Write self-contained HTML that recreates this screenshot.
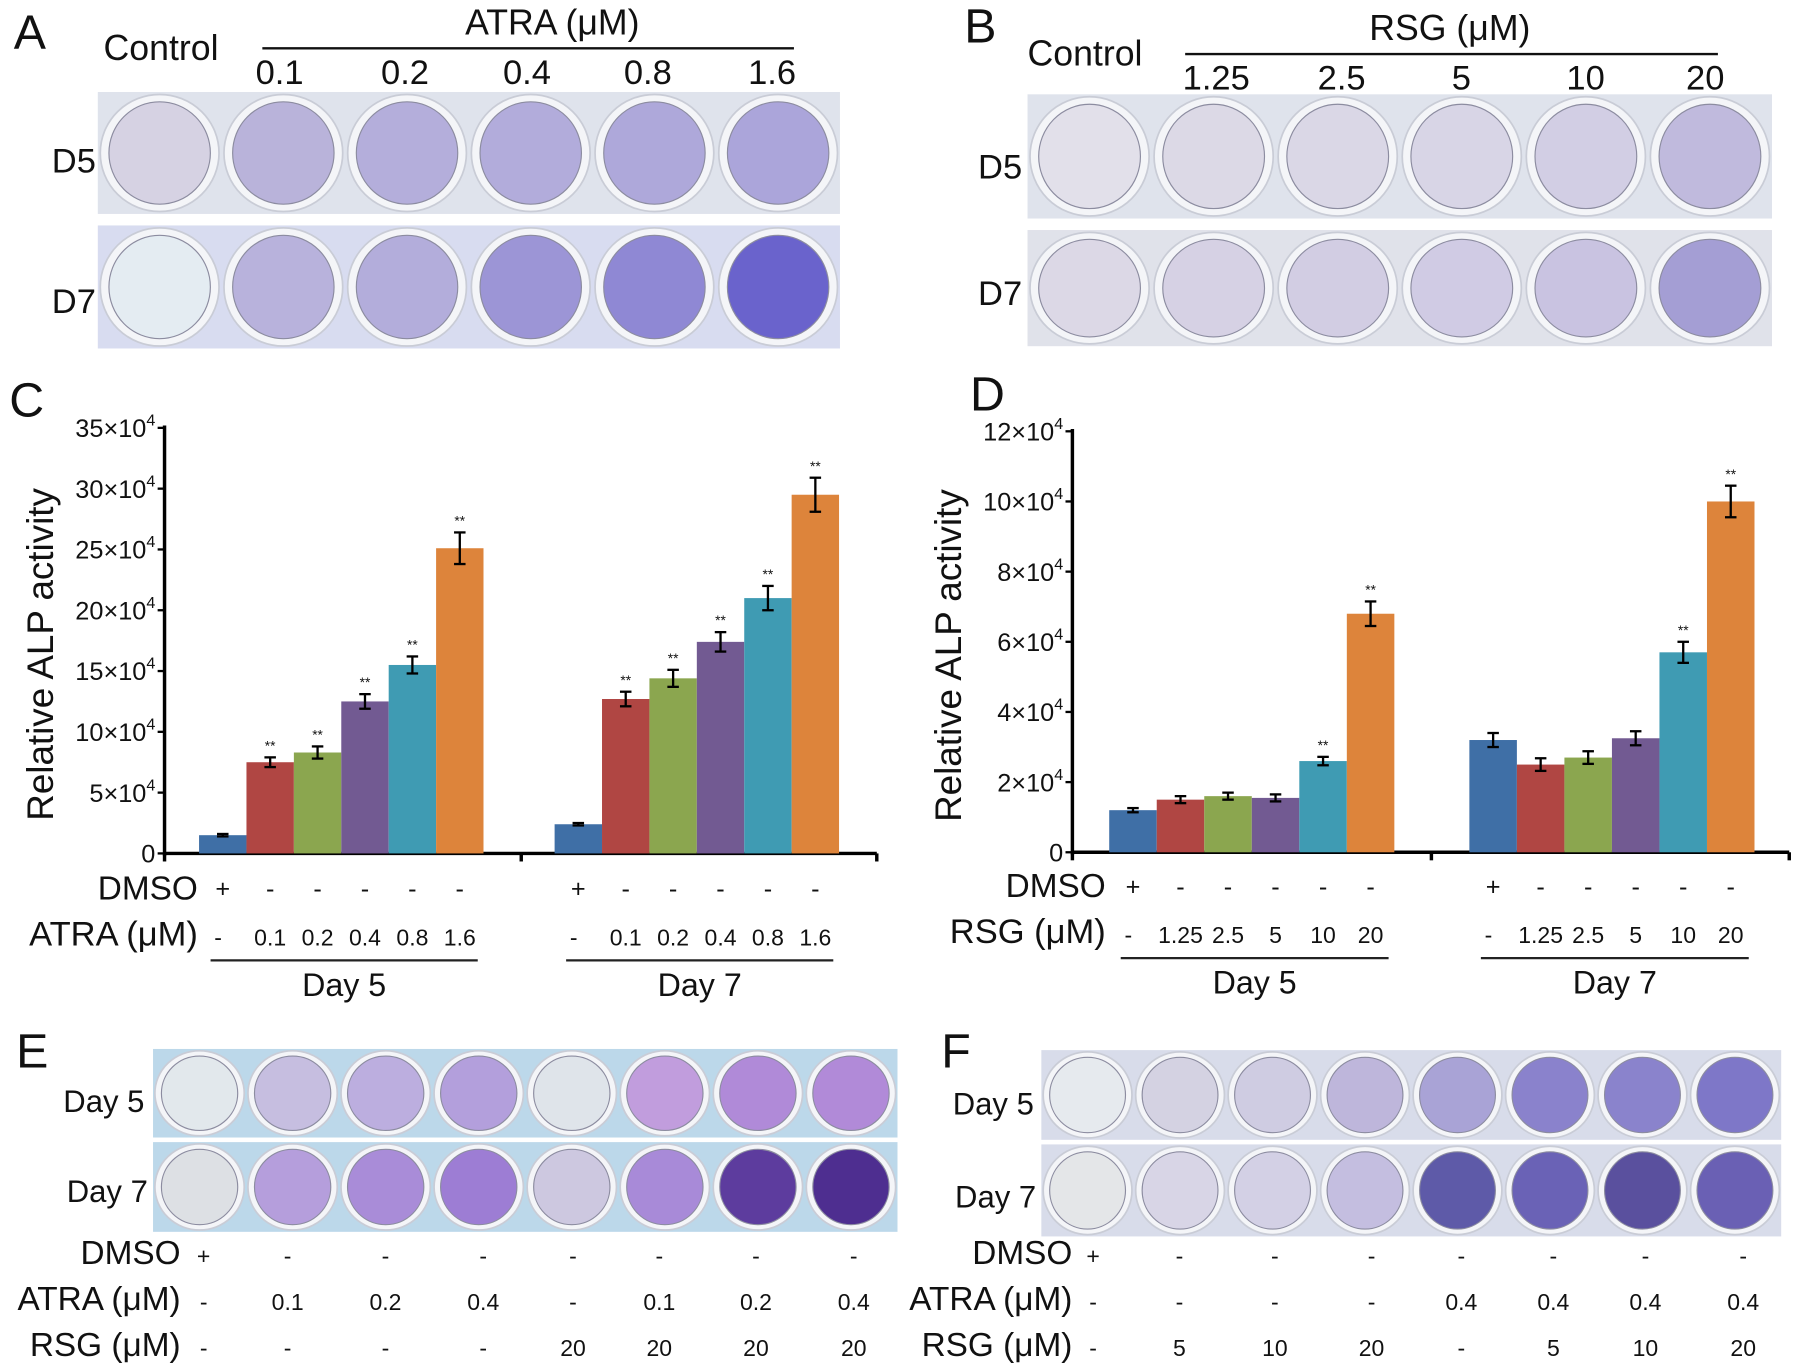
<!DOCTYPE html>
<html><head><meta charset="utf-8"><style>
html,body{margin:0;padding:0;background:#fff;}
svg{display:block;}
text{font-family:"Liberation Sans",sans-serif;fill:#111;}
.n{font-family:"Liberation Sans Narrow","Liberation Sans",sans-serif;}
</style></head><body>
<svg id="fig" width="1795" height="1371" viewBox="0 0 1560 1192" preserveAspectRatio="none" xmlns="http://www.w3.org/2000/svg">
<g id="static"></g>
</svg>
<script>
// ---- Chart C data (ATRA) ----
const cDay5 = [1.5, 7.5, 8.3, 12.5, 15.5, 25.1];
const cDay5Err = [0.1, 0.4, 0.5, 0.6, 0.7, 1.3];
const cDay7 = [2.4, 12.7, 14.4, 17.4, 21.0, 29.5];
const cDay7Err = [0.1, 0.6, 0.7, 0.8, 1.0, 1.4];
const cTicks = [0, 5, 10, 15, 20, 25, 30, 35];
const cDose = ["-", "0.1", "0.2", "0.4", "0.8", "1.6"];
const cDmso = ["+", "-", "-", "-", "-", "-"];
const cSig = ["", "**", "**", "**", "**", "**"];
// ---- Chart D data (RSG) ----
const dDay5 = [1.2, 1.5, 1.6, 1.55, 2.6, 6.8];
const dDay5Err = [0.06, 0.1, 0.1, 0.1, 0.12, 0.35];
const dDay7 = [3.2, 2.5, 2.7, 3.25, 5.7, 10.0];
const dDay7Err = [0.2, 0.18, 0.18, 0.2, 0.3, 0.45];
const dTicks = [0, 2, 4, 6, 8, 10, 12];
const dDose = ["-", "1.25", "2.5", "5", "10", "20"];
const dDmso = ["+", "-", "-", "-", "-", "-"];
const dSig = ["", "", "", "", "**", "**"];
const dSig7 = ["", "", "", "", "**", "**"];
const colors = ["#3f6fa6", "#b04643", "#8ba64f", "#725a92", "#3f9bb3", "#dd843b"];

const NS = "http://www.w3.org/2000/svg";
const root = document.getElementById('static');
function mk(tag, attrs, parent, txt) {
  const e = document.createElementNS(NS, tag);
  for (const k in attrs) e.setAttribute(k, attrs[k]);
  if (txt !== undefined) e.textContent = txt;
  (parent || root).appendChild(e);
  return e;
}
function label(x, y, s, size, anchor, cls, name) {
  const t = mk('text', {x: x, y: y, 'font-size': size, 'text-anchor': anchor || 'middle', class: cls || ''}, root, s);
  
  
  return t;
}

function chart(opt) {
  const g = mk('g', {});
  
  
  const y = v => opt.y0 - (v - 0) / opt.max * (opt.y0 - opt.y1);
  const ya = mk('line', {x1: opt.x0, y1: opt.y1 - 2, x2: opt.x0, y2: opt.y0 + 2, stroke: '#000', 'stroke-width': 3}, g);
   
  const xa = mk('line', {x1: opt.x0, y1: opt.y0, x2: opt.x2, y2: opt.y0, stroke: '#000', 'stroke-width': 3}, g);
   
  [opt.x0, opt.xm, opt.x2].forEach(x => mk('line', {x1: x, y1: opt.y0, x2: x, y2: opt.y0 + 7, stroke: '#000', 'stroke-width': 3}, g));
  opt.ticks.forEach(v => {
    const yy = y(v);
    mk('line', {x1: opt.x0 - 6, y1: yy, x2: opt.x0, y2: yy, stroke: '#000', 'stroke-width': 2}, g);
    const t = mk('text', {x: opt.x0 - 8, y: yy + 8, 'font-size': 22, 'text-anchor': 'end', class: 'n'}, g);
    
    
    if (v === 0) { t.textContent = '0'; }
    else {
      t.textContent = v + '\u00d710';
      mk('tspan', {dy: -10, 'font-size': 14}, t, '4');
    }
  });
  const yt = mk('text', {x: 0, y: 0, 'font-size': 32, 'text-anchor': 'middle', transform: `translate(${opt.x0 - 97},${(opt.y0 + opt.y1) / 2 + 12}) rotate(-90)`}, g, 'Relative ALP activity');
   
  [[opt.d5, opt.e5, opt.s5, opt.g5, 'day5'], [opt.d7, opt.e7, opt.s7, opt.g7, 'day7']].forEach(([vals, errs, sig, gx, dn]) => {
    vals.forEach((v, i) => {
      const bx = gx + i * opt.bw;
      const r = mk('rect', {x: bx, y: y(v), width: opt.bw, height: opt.y0 - y(v), fill: colors[i]}, g);
      
      
      const cx = bx + opt.bw / 2, hi = y(v + errs[i]), lo = y(v - errs[i]);
      mk('line', {x1: cx, y1: hi, x2: cx, y2: lo, stroke: '#000', 'stroke-width': 2}, g);
      mk('line', {x1: cx - 5, y1: hi, x2: cx + 5, y2: hi, stroke: '#000', 'stroke-width': 2}, g);
      mk('line', {x1: cx - 5, y1: lo, x2: cx + 5, y2: lo, stroke: '#000', 'stroke-width': 2}, g);
      if (sig[i]) {
        const s = mk('text', {x: cx, y: hi - 6, 'font-size': 12, 'text-anchor': 'middle'}, g, sig[i]);
        
        
      }
      label(cx, opt.rowDmso, opt.dmso[i], 22, 'middle', '', 'dmso-value');
      label(cx + (i === 0 ? -4 : 0), opt.rowDose, opt.dose[i], 20, 'middle', 'n', 'dose-value');
    });
    const x1 = gx + 10, x2 = gx + vals.length * opt.bw - 5;
    mk('line', {x1: x1, y1: opt.rowDose + 13, x2: x2, y2: opt.rowDose + 13, stroke: '#222', 'stroke-width': 2}, g);
    label((x1 + x2) / 2, opt.rowDose + 44, dn === 'day5' ? 'Day 5' : 'Day 7', 28, 'middle', 'n', 'group-label');
  });
  label(opt.x0 + 29, opt.rowDmso + 2, 'DMSO', 29, 'end', '', 'dmso-row-label');
  label(opt.x0 + 29, opt.rowDose, opt.doseName, 30, 'end', '', 'dose-row-label');
}

chart({name: 'chart-c', x0: 143, xm: 453, x2: 762, y0: 742, y1: 372, max: 35, ticks: cTicks, bw: 41.2,
  g5: 173, g7: 482, d5: cDay5, e5: cDay5Err, d7: cDay7, e7: cDay7Err, s5: cSig, s7: cSig,
  dmso: cDmso, dose: cDose, doseName: 'ATRA (\u03bcM)', rowDmso: 780, rowDose: 822});
chart({name: 'chart-d', x0: 932, xm: 1244, x2: 1555, y0: 741, y1: 375, max: 12, ticks: dTicks, bw: 41.3,
  g5: 964, g7: 1277, d5: dDay5, e5: dDay5Err, d7: dDay7, e7: dDay7Err, s5: dSig, s7: dSig7,
  dmso: dDmso, dose: dDose, doseName: 'RSG (\u03bcM)', rowDmso: 778, rowDose: 820});

function plate(name, x, y, w, h, fills, bg) {
  const g = mk('g', {});
  
  
  mk('rect', {x: x, y: y, width: w, height: h, fill: bg || '#dfe3ec'}, g);
  const n = fills.length, cw = w / n;
  fills.forEach((f, i) => {
    const cx = x + cw * (i + 0.5), cy = y + h / 2;
    mk('ellipse', {cx: cx, cy: cy, rx: cw * 0.48, ry: h * 0.48, fill: '#f4f5f8', stroke: '#c9ccd6', 'stroke-width': 1.5}, g);
    const e = mk('ellipse', {cx: cx, cy: cy, rx: cw * 0.41, ry: h * 0.42, fill: f, stroke: '#8c8ca0', 'stroke-width': 1}, g);
    
    
  });
}
plate('plate-a-d5', 85, 80, 645, 106, ['#d6d2e3', '#b9b3da', '#b4aedb', '#b2acdb', '#aea8da', '#aba5da']);
plate('plate-a-d7', 85, 196, 645, 107, ['#e4ecf2', '#b8b2dc', '#b3addb', '#9c95d6', '#8f88d4', '#6a63cc'], '#d8dcf0');
plate('plate-b-d5', 893, 82, 647, 108, ['#e2e0ea', '#dcd9e6', '#dad7e6', '#d8d5e6', '#d2cee4', '#c0badd']);
plate('plate-b-d7', 893, 200, 647, 101, ['#dcd8e6', '#d6d1e4', '#d2cde3', '#d0cbe4', '#c9c3e1', '#a49ed4'], '#e0e2ea');
plate('plate-e-d5', 133, 912, 647, 77, ['#e2e8ec', '#c6bee0', '#bcaedf', '#b39fdc', '#dfe4ea', '#c19ddd', '#b08ad8', '#b18ad8'], '#bcd8ea');
plate('plate-e-d7', 133, 993, 647, 78, ['#dde0e4', '#b59edc', '#a98cd8', '#9d7dd4', '#cdc8e0', '#a88ad8', '#5d3c9e', '#4e2e90'], '#bcd8ea');
plate('plate-f-d5', 905, 913, 643, 78, ['#e6eaee', '#d4d2e2', '#cfcce2', '#beb6db', '#a9a3d6', '#8a82cc', '#8a83cc', '#7e77c8'], '#d8dcea');
plate('plate-f-d7', 905, 995, 643, 80, ['#e4e6e8', '#d8d5e6', '#d3d0e5', '#c4bee0', '#5e5aa8', '#6a62b6', '#5a509e', '#6a60b4'], '#d8dcea');

[['A', 12, 42], ['B', 838, 37], ['C', 8, 362], ['D', 843, 357], ['E', 14, 928], ['F', 818, 928]].forEach(([s, x, y]) => label(x, y, s, 42, 'start', '', 'panel-letter-' + s.toLowerCase()));
label(90, 52, 'Control', 31, 'start', '', 'control-label-a');
label(480, 30, 'ATRA (\u03bcM)', 31, 'middle', '', 'atra-header');
mk('line', {x1: 228, y1: 42, x2: 690, y2: 42, stroke: '#111', 'stroke-width': 2});
[['0.1', 243], ['0.2', 352], ['0.4', 458], ['0.8', 563], ['1.6', 671]].forEach(([s, x]) => label(x, 73, s, 30, 'middle', '', 'atra-dose'));
label(45, 150, 'D5', 30, 'start', '', 'row-label-d5');
label(45, 272, 'D7', 30, 'start', '', 'row-label-d7');
label(893, 57, 'Control', 31, 'start', '', 'control-label-b');
label(1260, 35, 'RSG (\u03bcM)', 31, 'middle', '', 'rsg-header');
mk('line', {x1: 1030, y1: 47, x2: 1493, y2: 47, stroke: '#111', 'stroke-width': 2});
[['1.25', 1057], ['2.5', 1166], ['5', 1270], ['10', 1378], ['20', 1482]].forEach(([s, x]) => label(x, 78, s, 30, 'middle', '', 'rsg-dose'));
label(850, 155, 'D5', 30, 'start', '', 'row-label-d5');
label(850, 265, 'D7', 30, 'start', '', 'row-label-d7');

label(55, 967, 'Day 5', 27, 'start', 'n', 'row-label-day5');
label(58, 1045, 'Day 7', 27, 'start', 'n', 'row-label-day7');
label(828, 969, 'Day 5', 27, 'start', 'n', 'row-label-day5');
label(830, 1050, 'Day 7', 27, 'start', 'n', 'row-label-day7');
const eCols = [177, 250, 335, 420, 498, 573, 657, 742];
const eAtra = ['-', '0.1', '0.2', '0.4', '-', '0.1', '0.2', '0.4'];
const eRsg = ['-', '-', '-', '-', '20', '20', '20', '20'];
const fCols = [950, 1025, 1108, 1192, 1270, 1350, 1430, 1515];
const fAtra = ['-', '-', '-', '-', '0.4', '0.4', '0.4', '0.4'];
const fRsg = ['-', '5', '10', '20', '-', '5', '10', '20'];
[[eCols, eAtra, eRsg, 157], [fCols, fAtra, fRsg, 932]].forEach(([cols, at, rs, rx]) => {
  label(rx, 1099, 'DMSO', 29, 'end', '', 'dmso-row-label');
  label(rx, 1139, 'ATRA (\u03bcM)', 29, 'end', '', 'atra-row-label');
  label(rx, 1179, 'RSG (\u03bcM)', 29, 'end', '', 'rsg-row-label');
  cols.forEach((x, i) => {
    label(x, 1099, i === 0 ? '+' : '-', 20, 'middle', '', 'dmso-value');
    label(x, 1139, at[i], 20, 'middle', 'n', 'atra-value');
    label(x, 1179, rs[i], 20, 'middle', 'n', 'rsg-value');
  });
});
</script>
</body></html>
